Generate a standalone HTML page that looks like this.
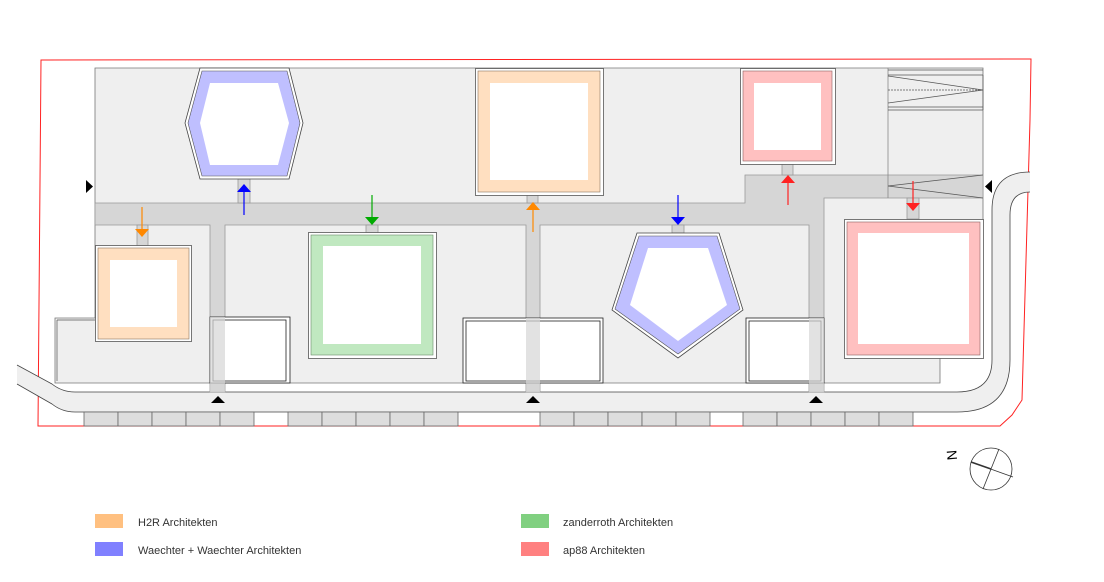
<!DOCTYPE html>
<html><head><meta charset="utf-8"><style>
html,body{margin:0;padding:0;background:#fff;}
svg{display:block;font-family:"Liberation Sans",sans-serif;}
</style></head><body>
<svg width="1104" height="582" viewBox="0 0 1104 582" xmlns="http://www.w3.org/2000/svg">
<!-- site boundary -->
<path d="M41,60 L1031,59 L1030,120 L1022,400 L1012,415 L1000,426 L38,426 Z" fill="none" stroke="#f22" stroke-width="1"/>
<!-- road -->
<path d="M17,365 L52,384 Q62,392 75,392 L957,392 Q992,392 992,360 L992,210 Q992,172 1030,172 L1030,192 Q1010,192 1010,215 L1010,360 Q1010,412 957,412 L75,412 Q62,412 52,404 L17,384 Z" fill="#efefef" stroke="none"/>
<path d="M17,365 L52,384 Q62,392 75,392 L957,392 Q992,392 992,360 L992,210 Q992,172 1030,172" fill="none" stroke="#444" stroke-width="0.8"/>
<path d="M17,384 L52,404 Q62,412 75,412 L957,412 Q1010,412 1010,360 L1010,215 Q1010,192 1030,192" fill="none" stroke="#444" stroke-width="0.8"/>
<!-- parking -->
<g fill="#ddd" stroke="#666" stroke-width="0.8">
<rect x="84" y="412" width="34" height="14"/><rect x="118" y="412" width="34" height="14"/><rect x="152" y="412" width="34" height="14"/><rect x="186" y="412" width="34" height="14"/><rect x="220" y="412" width="34" height="14"/>
<rect x="288" y="412" width="34" height="14"/><rect x="322" y="412" width="34" height="14"/><rect x="356" y="412" width="34" height="14"/><rect x="390" y="412" width="34" height="14"/><rect x="424" y="412" width="34" height="14"/>
<rect x="540" y="412" width="34" height="14"/><rect x="574" y="412" width="34" height="14"/><rect x="608" y="412" width="34" height="14"/><rect x="642" y="412" width="34" height="14"/><rect x="676" y="412" width="34" height="14"/>
<rect x="743" y="412" width="34" height="14"/><rect x="777" y="412" width="34" height="14"/><rect x="811" y="412" width="34" height="14"/><rect x="845" y="412" width="34" height="14"/><rect x="879" y="412" width="34" height="14"/>
</g>
<!-- ground grey areas -->
<path d="M95,68 L983,68 L983,358 L940,358 L940,383 L55,383 L55,318 L95,318 Z" fill="#efefef" stroke="#777" stroke-width="0.8"/>
<!-- corridors -->
<path d="M95,203 L745,203 L745,175 L983,175 L983,198 L824,198 L824,392 L809,392 L809,225 L540,225 L540,392 L526,392 L526,225 L225,225 L225,392 L210,392 L210,225 L95,225 Z" fill="#d6d6d6" stroke="#999" stroke-width="0.8"/>
<line x1="888" y1="68" x2="888" y2="198" stroke="#888" stroke-width="0.8"/>
<!-- stubs -->
<g fill="#d6d6d6" stroke="#999" stroke-width="0.8">
<rect x="238" y="179" width="12" height="24"/><rect x="137" y="225" width="11" height="21"/><rect x="366" y="225" width="12" height="8"/>
<rect x="527" y="194" width="11" height="9"/><rect x="782" y="164" width="11" height="11"/><rect x="672" y="225" width="12" height="8"/><rect x="907" y="198" width="12" height="21"/>
</g>
<!-- stairs -->
<g fill="none" stroke="#555" stroke-width="0.7">
<line x1="888" y1="70" x2="983" y2="70"/><line x1="888" y1="75" x2="983" y2="75"/><line x1="888" y1="107" x2="983" y2="107"/><line x1="888" y1="110" x2="983" y2="110"/>
<polyline points="888,76 983,90 888,103"/><line x1="888" y1="90" x2="983" y2="90" stroke-dasharray="2,1"/>
<polyline points="983,75 983,110"/>
<line x1="888" y1="186" x2="983" y2="175"/><line x1="888" y1="186" x2="983" y2="198"/>
</g>
<!-- left block inner -->
<path d="M57,320 L95,320 M57,320 L57,381" stroke="#555" fill="none" stroke-width="0.7"/>
<!-- garages -->
<g fill="#fff" stroke="#222" stroke-width="0.8">
<rect x="210" y="317" width="80" height="66"/><rect x="463" y="318" width="140" height="65"/><rect x="746" y="318" width="78" height="65"/>
</g>
<g fill="none" stroke="#222" stroke-width="0.8"><rect x="213" y="320" width="73" height="61"/><rect x="466" y="321" width="134" height="60"/><rect x="749" y="321" width="72" height="60"/></g>
<g fill="#d6d6d6" opacity="0.7"><rect x="210" y="317" width="15" height="75"/><rect x="526" y="318" width="14" height="74"/><rect x="809" y="318" width="15" height="74"/></g>
<!-- hexagon -->
<polygon points="200,68 289,68 303,123 289,179 200,179 185,123" fill="#fff" stroke="#444" stroke-width="0.8"/>
<polygon points="202,71 287,71 300,123 287,176 202,176 188,123" fill="#bfbfff" stroke="#555" stroke-width="0.6"/>
<polygon points="210,83 278,83 289,123 278,165 210,165 200,123" fill="#fff"/>
<!-- small orange -->
<rect x="95.5" y="245.5" width="96" height="96" fill="#fff" stroke="#555" stroke-width="0.8"/>
<rect x="98" y="248" width="91" height="91" fill="#ffdfc0" stroke="#8a7560" stroke-width="0.6"/>
<rect x="110" y="260" width="67" height="67" fill="#fff"/>
<!-- green -->
<rect x="308.5" y="232.5" width="128" height="126" fill="#fff" stroke="#555" stroke-width="0.8"/>
<rect x="311" y="235" width="122" height="120" fill="#c0e8c0" stroke="#6a8a6a" stroke-width="0.6"/>
<rect x="323" y="246" width="98" height="98" fill="#fff"/>
<!-- big orange -->
<rect x="475.5" y="68.5" width="128" height="127" fill="#fff" stroke="#555" stroke-width="0.8"/>
<rect x="478" y="71" width="122" height="121" fill="#ffdfc0" stroke="#8a7560" stroke-width="0.6"/>
<rect x="490" y="83" width="98" height="97" fill="#fff"/>
<!-- pink small -->
<rect x="740.5" y="68.5" width="95" height="96" fill="#fff" stroke="#555" stroke-width="0.8"/>
<rect x="743" y="71" width="89" height="90" fill="#ffc0c0" stroke="#8a6060" stroke-width="0.6"/>
<rect x="754" y="83" width="67" height="67" fill="#fff"/>
<!-- pentagon -->
<polygon points="637,233 719,233 743,310 678,358 612,310" fill="#fff" stroke="#444" stroke-width="0.8"/>
<polygon points="639,236 717,236 740,309 678,354 615,309" fill="#bfbfff" stroke="#555" stroke-width="0.6"/>
<polygon points="648,248 708,248 727,305 678,341 630,305" fill="#fff"/>
<!-- pink large -->
<rect x="844.5" y="219.5" width="139" height="139" fill="#fff" stroke="#555" stroke-width="0.8"/>
<rect x="847" y="222" width="133" height="133" fill="#ffc0c0" stroke="#8a6060" stroke-width="0.6"/>
<rect x="858" y="233" width="111" height="111" fill="#fff"/>
<!-- arrows -->
<g stroke-width="1.2">
<line x1="244" y1="215" x2="244" y2="190" stroke="#00f"/><polygon points="237,192 251,192 244,184" fill="#00f"/>
<line x1="142" y1="207" x2="142" y2="230" stroke="#f80"/><polygon points="135,229 149,229 142,237" fill="#f80"/>
<line x1="372" y1="195" x2="372" y2="218" stroke="#0a0"/><polygon points="365,217 379,217 372,225" fill="#0a0"/>
<line x1="533" y1="232" x2="533" y2="209" stroke="#f80"/><polygon points="526,210 540,210 533,202" fill="#f80"/>
<line x1="678" y1="195" x2="678" y2="218" stroke="#00f"/><polygon points="671,217 685,217 678,225" fill="#00f"/>
<line x1="788" y1="205" x2="788" y2="182" stroke="#f22"/><polygon points="781,183 795,183 788,175" fill="#f22"/>
<line x1="913" y1="181" x2="913" y2="204" stroke="#f22"/><polygon points="906,203 920,203 913,211" fill="#f22"/>
</g>
<!-- entrance triangles -->
<g fill="#000">
<polygon points="211,403 225,403 218,396"/><polygon points="526,403 540,403 533,396"/><polygon points="809,403 823,403 816,396"/>
<polygon points="86,180 86,193 93,186.5"/><polygon points="992,180 992,193 985,186.5"/>
</g>
<!-- compass -->
<circle cx="991" cy="469" r="21" fill="#fff" stroke="#333" stroke-width="0.8"/>
<line x1="999" y1="449" x2="983" y2="489" stroke="#333" stroke-width="0.8"/>
<line x1="971" y1="462" x2="1013" y2="477" stroke="#333" stroke-width="0.8"/>
<line x1="971" y1="462" x2="991" y2="469" stroke="#333" stroke-width="1.6"/>
<text x="953" y="455" font-size="14" text-anchor="middle" transform="rotate(-95 953 455)" dominant-baseline="middle">N</text>
<!-- legend -->
<rect x="95" y="514" width="28" height="14" fill="#ffc080"/>
<rect x="95" y="542" width="28" height="14" fill="#8080ff"/>
<rect x="521" y="514" width="28" height="14" fill="#80d080"/>
<rect x="521" y="542" width="28" height="14" fill="#ff8080"/>
<g font-size="11" fill="#333">
<text x="138" y="526">H2R Architekten</text>
<text x="138" y="554">Waechter + Waechter Architekten</text>
<text x="563" y="526">zanderroth Architekten</text>
<text x="563" y="554">ap88 Architekten</text>
</g>
</svg>
</body></html>
